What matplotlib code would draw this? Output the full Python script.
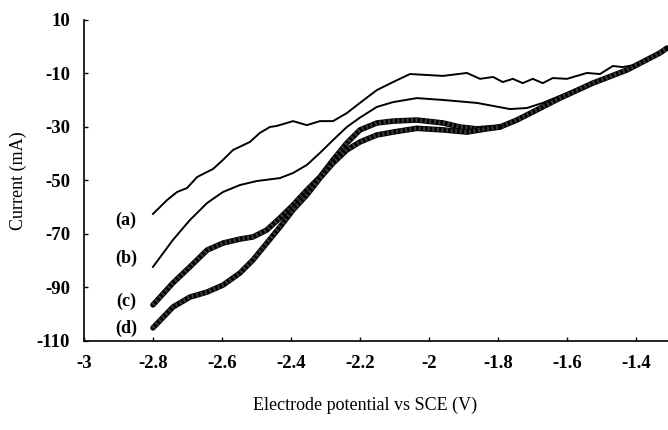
import matplotlib.pyplot as plt

# potential (V) and current (mA) read along each sweep
xa = [-2.800, -2.759, -2.730, -2.701, -2.672, -2.643, -2.626, -2.597, -2.568, -2.519, -2.490,
      -2.461, -2.441, -2.412, -2.394, -2.354, -2.316, -2.278, -2.238, -2.200, -2.151, -2.104,
      -2.055, -1.959, -1.890, -1.852, -1.814, -1.786, -1.757, -1.728, -1.699, -1.670, -1.641,
      -1.600, -1.542, -1.504, -1.467, -1.438, -1.390, -1.310]
ya = [-62.5, -57.3, -54.3, -52.8, -48.7, -46.8, -45.7, -42.3, -38.6, -35.6, -32.2,
      -30.0, -29.6, -28.5, -27.8, -29.3, -27.8, -27.8, -24.8, -21.0, -16.2, -13.2,
      -10.2, -10.9, -9.8, -12.0, -11.3, -13.2, -12.0, -13.6, -12.0, -13.6, -11.7,
      -12.0, -9.8, -10.2, -7.2, -7.6, -6.5, -0.6]

xb = [-2.800, -2.742, -2.693, -2.643, -2.597, -2.548, -2.499, -2.432, -2.394, -2.354, -2.316,
      -2.278, -2.238, -2.200, -2.151, -2.104, -2.035, -1.959, -1.861, -1.765, -1.716, -1.670,
      -1.600, -1.500, -1.400, -1.310]
yb = [-82.3, -72.2, -64.8, -58.4, -54.3, -51.7, -50.2, -49.1, -47.2, -44.2, -39.7,
      -34.9, -30.0, -26.5, -22.5, -20.7, -19.2, -19.9, -21.0, -23.3, -22.9, -21.0,
      -17.3, -12.0, -7.0, -0.6]

xc = [-2.800, -2.742, -2.693, -2.643, -2.597, -2.548, -2.510, -2.470, -2.432, -2.394, -2.354,
      -2.316, -2.278, -2.238, -2.200, -2.151, -2.104, -2.035, -1.959, -1.910, -1.861, -1.794,
      -1.745, -1.687, -1.620, -1.525, -1.426, -1.330, -1.310]
yc = [-96.5, -88.3, -82.3, -76.0, -73.4, -71.9, -71.1, -68.5, -64.0, -59.2, -53.6,
      -48.7, -42.3, -36.0, -31.1, -28.5, -27.8, -27.4, -28.5, -30.0, -30.7, -30.0,
      -27.4, -23.6, -19.2, -13.6, -8.7, -2.3, -0.5]

xd = [-2.800, -2.742, -2.693, -2.643, -2.597, -2.548, -2.510, -2.470, -2.432, -2.394, -2.354,
      -2.316, -2.278, -2.238, -2.200, -2.151, -2.104, -2.035, -1.959, -1.890, -1.832, -1.794]
yd = [-105.1, -97.3, -93.6, -91.7, -89.1, -84.6, -79.7, -73.4, -67.4, -61.0, -55.4,
      -49.1, -43.5, -38.6, -35.6, -33.0, -31.9, -30.5, -31.1, -31.9, -30.7, -30.0]

labels = ['(a)', '(b)', '(c)', '(d)']
label_y = [-64.8, -79.0, -95.0, -105.1]

plt.rcParams['font.family'] = ['Liberation Serif', 'DejaVu Serif']
plt.rcParams['axes.unicode_minus'] = False

fig = plt.figure(figsize=(6.68, 4.30), dpi=100)
ax = fig.add_axes([0.1257, 0.207, 0.8743, 0.7465])

ax.plot(xa, ya, color='black', lw=1.4)
ax.plot(xb, yb, color='black', lw=1.4)
# the two thick sweeps: dark band with a hatched texture on top
for xs, ys in [(xc, yc), (xd, yd)]:
    ax.plot(xs, ys, color='black', lw=4.0, solid_capstyle='round', solid_joinstyle='round')
    ax.plot(xs, ys, color='#3a3a3a', lw=3.0, ls=(0, (0.5, 0.6)))

for lab, ly in zip(labels, label_y):
    ax.text(-2.878, ly, lab, ha='center', va='center', fontsize=13, fontweight='bold')

ax.set_xlim(-3, -1.307)
ax.set_ylim(-110, 10)
ax.set_xticks([-3, -2.8, -2.6, -2.4, -2.2, -2, -1.8, -1.6, -1.4])
ax.set_xticklabels(['-3', '-2.8', '-2.6', '-2.4', '-2.2', '-2', '-1.8', '-1.6', '-1.4'])
ax.set_yticks(range(-110, 11, 20))
ax.tick_params(direction='in', length=3, width=1, labelsize=13.5)
ax.tick_params(axis='x', pad=10)
ax.tick_params(axis='y', pad=10)
for t in ax.get_xticklabels() + ax.get_yticklabels():
    t.set_fontweight('bold')

for side in ['top', 'right']:
    ax.spines[side].set_visible(False)
ax.spines['left'].set_linewidth(1.2)
ax.spines['bottom'].set_linewidth(1.2)

fig.text(0.546, 0.058, 'Electrode potential vs SCE (V)', ha='center', va='center', fontsize=13)
fig.text(0.027, 0.58, 'Current (mA)', ha='center', va='center', rotation=90, fontsize=13)

fig.savefig('out.png', dpi=100)
